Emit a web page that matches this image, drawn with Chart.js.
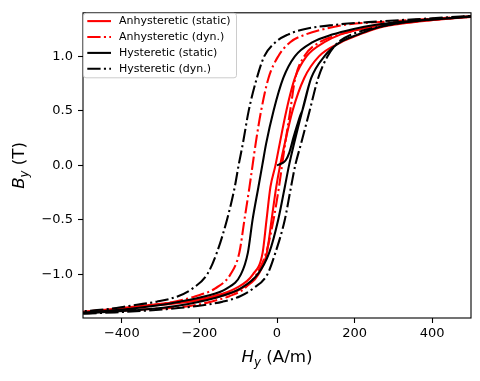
<!DOCTYPE html>
<html><head><meta charset="utf-8">
<script src="https://cdn.jsdelivr.net/npm/chart.js@4.4.0/dist/chart.umd.min.js"></script>
<style>html,body{margin:0;padding:0;background:#fff;}#wrap{width:480px;height:381px;}</style>
</head><body><div id="wrap"><canvas id="c" width="480" height="381"></canvas></div>
<script>
// Flux density levels (T), shared by every branch, from +saturation down to -saturation
const LEVELS = [1.38, 1.35, 1.32, 1.29, 1.25, 1.2, 1.13, 1.0, 0.8, 0.5, 0.2, 0, -0.2, -0.5, -0.8, -1.0, -1.13, -1.2, -1.25, -1.29, -1.32, -1.345, -1.365];
// Field H (A/m) at each level, per branch (down = descending field, up = ascending field)
const ANH_STATIC_DOWN = [560, 440, 340, 270, 215, 163, 122, 76, 46, 24, 7, -4, -17, -27, -37, -62, -108, -165, -250, -350, -430, -510, -600];
const ANH_STATIC_UP   = [560, 455, 365, 300, 250, 212, 165, 108, 70, 40, 20, 8, -2, -14, -26, -48, -92, -145, -225, -330, -420, -500, -600];
const ANH_DYN_DOWN    = [560, 420, 290, 175, 120, 73, 34, 3, -22, -41, -55, -63, -71, -84, -97, -120, -160, -210, -265, -335, -410, -500, -600];
const ANH_DYN_UP      = [560, 450, 360, 285, 215, 160, 110, 70, 47, 34, 21, 13, 5, -9, -28, -53, -84, -123, -170, -225, -340, -470, -610];
const HYS_STATIC_DOWN = [560, 440, 330, 255, 195, 142, 92, 46, 16, -9, -28, -38, -48, -63, -75, -93, -130, -185, -250, -320, -390, -480, -580];
const HYS_STATIC_UP   = [560, 450, 350, 290, 245, 208, 163, 122, 88, 65, 44, 31, 20, 3, -20, -50, -95, -145, -200, -260, -335, -440, -570];
const HYS_DYN_DOWN    = [540, 400, 260, 150, 70, 28, -4, -33, -52, -73, -88, -99, -109, -129, -155, -180, -218, -255, -310, -382, -440, -540, -700];
const HYS_DYN_UP      = [560, 430, 340, 290, 235, 192, 158, 130, 106, 84, 62, 47, 36, 20, -4, -25, -62, -95, -140, -205, -290, -400, -560];
// Initial magnetisation curve of the static hysteretic model
const INIT_H = [0, 10, 22, 32, 42, 52, 60];
const INIT_B = [0, 0.015, 0.045, 0.12, 0.25, 0.37, 0.46];

const X_TICKS = [-400, -200, 0, 200, 400];
const Y_TICKS = [-1.0, -0.5, 0.0, 0.5, 1.0];
const LABELS = ['Anhysteretic (static)', 'Anhysteretic (dyn.)', 'Hysteretic (static)', 'Hysteretic (dyn.)'];

const FONT = 'DejaVu Sans';
const LW = 2.08;
const DASHDOT = [13.3, 3.3, 2.1, 3.3];

function down(hs) { return LEVELS.map((b, i) => ({x: hs[i], y: b})); }
function up(hs) { return down(hs).reverse(); }
function loop(d, u) { return down(d).concat(up(u)); }

const initPts = INIT_H.map((h, i) => ({x: h, y: INIT_B[i]}))
  .concat(up(HYS_STATIC_UP).filter(p => p.y >= 0.5));

const styles = [
  {color: '#ff0000', dash: []},
  {color: '#ff0000', dash: DASHDOT},
  {color: '#000000', dash: []},
  {color: '#000000', dash: DASHDOT}
];

const datasets = [
  {label: LABELS[0], data: loop(ANH_STATIC_DOWN, ANH_STATIC_UP), order: 4},
  {label: LABELS[1], data: loop(ANH_DYN_DOWN, ANH_DYN_UP), order: 3},
  {label: LABELS[2], data: initPts.concat(loop(HYS_STATIC_DOWN, HYS_STATIC_UP)), order: 2},
  {label: LABELS[3], data: loop(HYS_DYN_DOWN, HYS_DYN_UP), order: 1}
].map((d, i) => Object.assign(d, {
  showLine: true, pointRadius: 0, borderWidth: LW, borderColor: styles[i].color,
  backgroundColor: styles[i].color, borderDash: styles[i].dash,
  cubicInterpolationMode: 'monotone', fill: false
}));

function fmt(v, dec) {
  const s = dec ? Math.abs(v).toFixed(dec) : String(Math.abs(v));
  return (v < 0 ? '\u2212' : '') + s;
}

const framePlugin = {
  id: 'frame',
  afterDatasetsDraw(chart) {
    const a = chart.chartArea, ctx = chart.ctx;
    ctx.save();
    ctx.strokeStyle = '#000'; ctx.lineWidth = 1.1;
    ctx.strokeRect(a.left, a.top, a.right - a.left, a.bottom - a.top);
    ctx.restore();
  },
  afterDraw(chart) {
    const a = chart.chartArea, ctx = chart.ctx;
    ctx.save();
    // legend
    const bx = a.left + 0.5, by = a.top + 0.5, bw = 153, bh = 64.5, r = 2.5;
    ctx.beginPath();
    ctx.moveTo(bx + r, by); ctx.lineTo(bx + bw - r, by); ctx.quadraticCurveTo(bx + bw, by, bx + bw, by + r);
    ctx.lineTo(bx + bw, by + bh - r); ctx.quadraticCurveTo(bx + bw, by + bh, bx + bw - r, by + bh);
    ctx.lineTo(bx + r, by + bh); ctx.quadraticCurveTo(bx, by + bh, bx, by + bh - r);
    ctx.lineTo(bx, by + r); ctx.quadraticCurveTo(bx, by, bx + r, by);
    ctx.closePath();
    ctx.fillStyle = 'rgba(255,255,255,0.8)'; ctx.fill();
    ctx.strokeStyle = '#cccccc'; ctx.lineWidth = 1; ctx.stroke();
    ctx.font = '11px "' + FONT + '"'; ctx.textBaseline = 'middle'; ctx.textAlign = 'left';
    LABELS.forEach((lab, i) => {
      const y = a.top + 8.3 + i * 15.9;
      ctx.beginPath(); ctx.setLineDash(styles[i].dash); ctx.lineWidth = LW;
      ctx.strokeStyle = styles[i].color; ctx.lineCap = 'butt';
      ctx.moveTo(a.left + 4.3, y); ctx.lineTo(a.left + 28, y); ctx.stroke();
      ctx.setLineDash([]);
      ctx.fillStyle = '#000'; ctx.fillText(lab, a.left + 36, y + 0.5);
    });
    // x axis label: H_y (A/m)
    ctx.fillStyle = '#000'; ctx.textBaseline = 'alphabetic';
    const fs = 16.7, sub = fs * 0.7;
    const parts = [
      {t: 'H', f: 'italic ' + fs + 'px "' + FONT + '"', dy: 0},
      {t: 'y', f: 'italic ' + sub + 'px "' + FONT + '"', dy: 3.5},
      {t: ' (A/m)', f: fs + 'px "' + FONT + '"', dy: 0}
    ];
    let w = 0;
    parts.forEach(p => { ctx.font = p.f; p.w = ctx.measureText(p.t).width; w += p.w; });
    let x = (a.left + a.right) / 2 - w / 2;
    const yb = 362;
    parts.forEach(p => { ctx.font = p.f; ctx.fillText(p.t, x, yb + p.dy); x += p.w; });
    // y axis label: B_y (T)
    const partsY = [
      {t: 'B', f: 'italic ' + fs + 'px "' + FONT + '"', dy: 0},
      {t: 'y', f: 'italic ' + sub + 'px "' + FONT + '"', dy: 3.5},
      {t: ' (T)', f: fs + 'px "' + FONT + '"', dy: 0}
    ];
    let wy = 0;
    partsY.forEach(p => { ctx.font = p.f; p.w = ctx.measureText(p.t).width; wy += p.w; });
    ctx.translate(24, (a.top + a.bottom) / 2);
    ctx.rotate(-Math.PI / 2);
    let xx = -wy / 2;
    partsY.forEach(p => { ctx.font = p.f; ctx.fillText(p.t, xx, p.dy); xx += p.w; });
    ctx.restore();
  }
};

Chart.defaults.font.family = FONT;
new Chart(document.getElementById('c'), {
  type: 'scatter',
  data: {datasets},
  options: {
    responsive: false, animation: false, devicePixelRatio: 1,
    layout: {padding: {left: 0, right: 9, top: 10, bottom: 0}},
    plugins: {legend: {display: false}, tooltip: {enabled: false}},
    scales: {
      x: {
        type: 'linear', min: -500, max: 500, offset: false,
        afterBuildTicks: s => { s.ticks = X_TICKS.map(v => ({value: v})); },
        afterFit: s => { s.height = 63; },
        grid: {drawOnChartArea: false, drawTicks: true, tickLength: 5, tickColor: '#000', tickWidth: 1.1},
        border: {display: false},
        ticks: {color: '#000', font: {size: 13}, padding: 3, maxRotation: 0, autoSkip: false,
          callback: v => fmt(v, 0)}
      },
      y: {
        type: 'linear', min: -1.4, max: 1.4,
        afterBuildTicks: s => { s.ticks = Y_TICKS.map(v => ({value: v})); },
        afterFit: s => { s.width = 83; },
        grid: {drawOnChartArea: false, drawTicks: true, tickLength: 5, tickColor: '#000', tickWidth: 1.1},
        border: {display: false},
        ticks: {color: '#000', font: {size: 13}, padding: 5, autoSkip: false,
          callback: v => fmt(v, 1)}
      }
    }
  },
  plugins: [framePlugin]
});
</script></body></html>
